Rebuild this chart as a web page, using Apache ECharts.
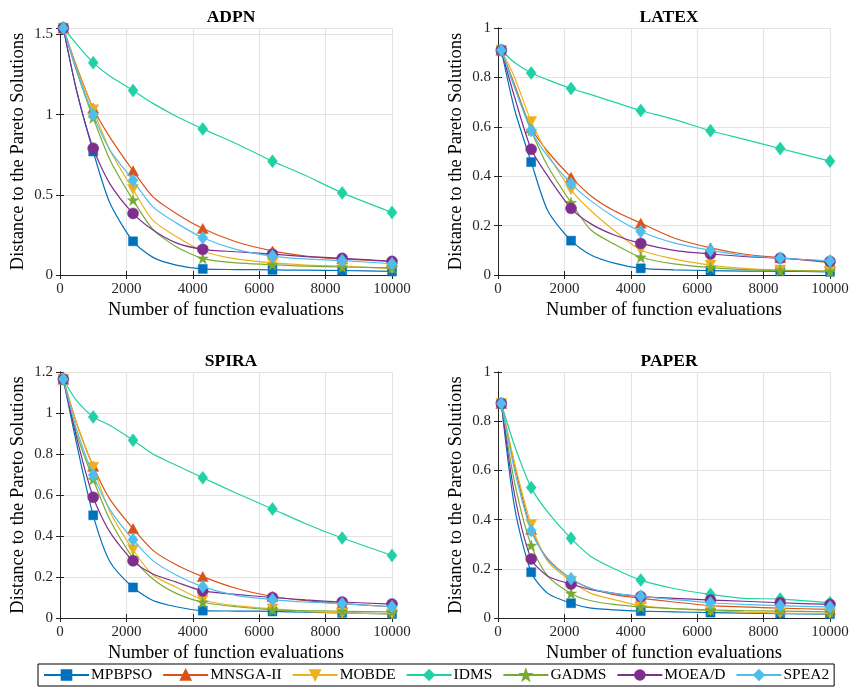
<!DOCTYPE html>
<html>
<head>
<meta charset="utf-8">
<script src="https://cdn.jsdelivr.net/npm/echarts@6/dist/echarts.min.js"></script>
<style>
  html, body { margin: 0; padding: 0; background: #fff; }
  #chart { width: 853px; height: 691px; }
</style>
</head>
<body>
<div id="chart"></div>
<script>
// Function evaluations at which the convergence metric was sampled
const evals = [100, 500, 1000, 1500, 2200, 2800, 3500, 4300, 5300, 6400, 7400, 8500, 10000];
// Indices of samples that carry a marker
const markerIdx = [0, 2, 4, 7, 9, 11, 12];

const algorithms = ['MPBPSO', 'MNSGA-II', 'MOBDE', 'IDMS', 'GADMS', 'MOEA/D', 'SPEA2'];

// One row per algorithm (same order as `algorithms`)
const ADPN = [
  [1.54, 1.15, 0.77, 0.45, 0.21, 0.11, 0.062, 0.038, 0.034, 0.032, 0.03, 0.028, 0.022],
  [1.54, 1.30, 1.04, 0.86, 0.65, 0.487, 0.384, 0.29, 0.207, 0.15, 0.118, 0.10, 0.085],
  [1.54, 1.29, 1.03, 0.78, 0.533, 0.34, 0.24, 0.15, 0.10, 0.075, 0.062, 0.055, 0.04],
  [1.54, 1.44, 1.324, 1.24, 1.151, 1.07, 0.99, 0.911, 0.82, 0.709, 0.62, 0.512, 0.39],
  [1.54, 1.27, 0.98, 0.72, 0.467, 0.285, 0.176, 0.104, 0.075, 0.065, 0.055, 0.05, 0.045],
  [1.54, 1.15, 0.79, 0.57, 0.384, 0.28, 0.20, 0.16, 0.145, 0.13, 0.115, 0.104, 0.085],
  [1.54, 1.28, 1.00, 0.78, 0.59, 0.425, 0.325, 0.232, 0.16, 0.118, 0.10, 0.09, 0.07]
];
const LATEX = [
  [0.91, 0.67, 0.457, 0.26, 0.139, 0.081, 0.048, 0.027, 0.021, 0.018, 0.016, 0.015, 0.013],
  [0.91, 0.77, 0.595, 0.50, 0.396, 0.32, 0.26, 0.21, 0.15, 0.11, 0.085, 0.07, 0.05],
  [0.91, 0.80, 0.621, 0.49, 0.345, 0.26, 0.18, 0.101, 0.065, 0.04, 0.027, 0.02, 0.016],
  [0.91, 0.86, 0.818, 0.79, 0.755, 0.73, 0.70, 0.666, 0.63, 0.584, 0.55, 0.512, 0.461],
  [0.91, 0.76, 0.585, 0.44, 0.293, 0.182, 0.125, 0.072, 0.045, 0.03, 0.022, 0.018, 0.015],
  [0.91, 0.72, 0.509, 0.40, 0.27, 0.207, 0.162, 0.128, 0.10, 0.085, 0.075, 0.068, 0.055],
  [0.91, 0.76, 0.585, 0.48, 0.37, 0.30, 0.235, 0.176, 0.13, 0.10, 0.08, 0.068, 0.057]
];
const SPIRA = [
  [1.165, 0.85, 0.501, 0.276, 0.149, 0.085, 0.055, 0.036, 0.034, 0.032, 0.028, 0.025, 0.02],
  [1.165, 0.95, 0.74, 0.58, 0.436, 0.33, 0.26, 0.202, 0.145, 0.105, 0.085, 0.07, 0.055],
  [1.165, 0.95, 0.735, 0.52, 0.333, 0.21, 0.15, 0.088, 0.06, 0.045, 0.032, 0.025, 0.02],
  [1.165, 1.06, 0.981, 0.94, 0.867, 0.80, 0.745, 0.684, 0.61, 0.532, 0.46, 0.39, 0.305],
  [1.165, 0.90, 0.676, 0.48, 0.293, 0.19, 0.12, 0.077, 0.055, 0.04, 0.036, 0.033, 0.03],
  [1.165, 0.88, 0.589, 0.42, 0.279, 0.215, 0.175, 0.132, 0.115, 0.10, 0.088, 0.078, 0.068],
  [1.165, 0.92, 0.697, 0.53, 0.382, 0.28, 0.21, 0.153, 0.11, 0.09, 0.078, 0.07, 0.055]
];
const PAPER = [
  [0.872, 0.45, 0.186, 0.10, 0.06, 0.04, 0.033, 0.028, 0.025, 0.022, 0.02, 0.018, 0.016],
  [0.872, 0.62, 0.36, 0.24, 0.16, 0.12, 0.095, 0.08, 0.065, 0.05, 0.045, 0.04, 0.035],
  [0.872, 0.63, 0.38, 0.23, 0.15, 0.10, 0.075, 0.05, 0.038, 0.03, 0.024, 0.02, 0.018],
  [0.872, 0.70, 0.53, 0.43, 0.324, 0.25, 0.20, 0.154, 0.12, 0.096, 0.08, 0.077, 0.062],
  [0.872, 0.55, 0.295, 0.17, 0.10, 0.07, 0.055, 0.045, 0.038, 0.033, 0.03, 0.028, 0.025],
  [0.872, 0.50, 0.24, 0.17, 0.138, 0.115, 0.10, 0.087, 0.08, 0.073, 0.068, 0.062, 0.055],
  [0.872, 0.60, 0.355, 0.235, 0.16, 0.12, 0.10, 0.088, 0.075, 0.062, 0.055, 0.05, 0.045]
];

const panelNames = ['ADPN', 'LATEX', 'SPIRA', 'PAPER'];
const panelData = [ADPN, LATEX, SPIRA, PAPER];
const yMax = [1.54, 1, 1.2, 1];
const yInterval = [0.5, 0.2, 0.2, 0.2];
const xTickStep = 2000;

// Plot boxes (pixels)
const boxes = [
  { left: 60,  top: 28,  width: 332, height: 247 },
  { left: 498, top: 28,  width: 332, height: 247 },
  { left: 60,  top: 372, width: 332, height: 246 },
  { left: 498, top: 372, width: 332, height: 246 }
];

const colors = ['#0072BD', '#D95319', '#EDB120', '#1FD1A5', '#77AC30', '#7E2F8E', '#4DBEEE'];
const STAR = 'path://M0,-10L2.35,-3.24L9.51,-3.09L3.8,1.24L5.88,8.09L0,4L-5.88,8.09L-3.8,1.24L-9.51,-3.09L-2.35,-3.24Z';
const symbols = ['rect', 'triangle', 'triangle', 'diamond', STAR, 'circle', 'diamond'];
const symbolRot = [0, 0, 180, 0, 0, 0, 0];
const symbolSz = [[9, 9], [11, 10], [11, 10], [10, 13], [11, 11], [11, 11], [10, 13]];

const FONT = 'Liberation Serif';
const AX = '#262626';

const grid = [], xAxis = [], yAxis = [], series = [], title = [];

boxes.forEach((b, p) => {
  grid.push({ left: b.left, top: b.top, width: b.width, height: b.height, containLabel: false });
  title.push({
    text: panelNames[p],
    left: b.left + b.width / 2, top: b.top - 25, textAlign: 'center',
    textStyle: { fontFamily: FONT, fontSize: 17.5, fontWeight: 'bold', color: '#000' }
  });
  const xi = xAxis.length, yi = yAxis.length;
  // bottom axis with labels
  xAxis.push({
    gridIndex: p, type: 'value', min: 0, max: 10000, interval: xTickStep,
    name: 'Number of function evaluations', nameLocation: 'middle', nameGap: 26,
    nameTextStyle: { fontFamily: FONT, fontSize: 18.5, color: '#000' },
    axisLine: { lineStyle: { color: AX, width: 1 } },
    axisTick: { inside: true, length: 4, lineStyle: { color: AX } },
    axisLabel: { fontFamily: FONT, fontSize: 15, color: '#262626', margin: 7, formatter: v => String(v) },
    splitLine: { show: true, lineStyle: { color: '#e3e3e3', width: 1 } }
  });
  // top mirror axis
  xAxis.push({
    gridIndex: p, type: 'value', position: 'top', min: 0, max: 10000, interval: xTickStep,
    axisLine: { lineStyle: { color: AX, width: 1 } },
    axisTick: { inside: true, length: 4, lineStyle: { color: AX } },
    axisLabel: { show: false }, splitLine: { show: false }
  });
  yAxis.push({
    gridIndex: p, type: 'value', min: 0, max: yMax[p], interval: yInterval[p],
    name: 'Distance to the Pareto Solutions', nameLocation: 'middle', nameGap: 32,
    nameTextStyle: { fontFamily: FONT, fontSize: 18.5, color: '#000' },
    axisLine: { show: true, lineStyle: { color: AX, width: 1 } },
    axisTick: { show: true, inside: true, length: 4, lineStyle: { color: AX } },
    axisLabel: {
      fontFamily: FONT, fontSize: 15, color: '#262626', margin: 7,
      formatter: v => (Math.abs(v / yInterval[p] - Math.round(v / yInterval[p])) < 1e-6 ? String(+v.toFixed(2)) : '')
    },
    splitLine: { show: true, lineStyle: { color: '#e3e3e3', width: 1 } }
  });
  yAxis.push({
    gridIndex: p, type: 'value', position: 'right', min: 0, max: yMax[p], interval: yInterval[p],
    axisLine: { show: true, lineStyle: { color: AX, width: 1 } },
    axisTick: { show: true, inside: true, length: 4, lineStyle: { color: AX } },
    axisLabel: { show: false }, splitLine: { show: false }
  });

  panelData[p].forEach((row, s) => {
    series.push({
      name: algorithms[s], type: 'line', xAxisIndex: xi, yAxisIndex: yi,
      data: evals.map((x, i) => [x, row[i]]),
      smooth: 0.25,
      symbol: symbols[s], symbolRotate: symbolRot[s],
      symbolSize: (v, prm) => (prm && markerIdx.includes(prm.dataIndex) ? symbolSz[s] : (prm ? 0 : symbolSz[s])),
      showSymbol: true, showAllSymbol: true,
      lineStyle: { color: colors[s], width: 1.2 },
      itemStyle: { color: colors[s], borderColor: colors[s], borderWidth: 0.5 },
      emphasis: { disabled: true },
      animation: false, z: 2 + s
    });
  });
});

const chart = echarts.init(document.getElementById('chart'), null, { renderer: 'canvas' });
chart.setOption({
  backgroundColor: '#ffffff',
  animation: false,
  title: title,
  grid: grid, xAxis: xAxis, yAxis: yAxis, series: series,
  legend: {
    data: algorithms,
    left: 38, top: 664, width: 812, orient: 'horizontal',
    itemWidth: 45, itemHeight: 12, itemGap: 10,
    padding: [3, 5, 3, 5],
    borderColor: '#000', borderWidth: 1,
    textStyle: { fontFamily: FONT, fontSize: 15.5, color: '#000', padding: [0, 0, 0, -3] }
  }
});
</script>
</body>
</html>
